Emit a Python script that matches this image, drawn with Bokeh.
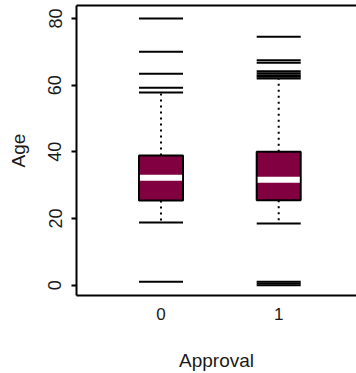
from bokeh.plotting import figure
from bokeh.models import FixedTicker, LinearAxis, Range1d
from bokeh.embed import file_html
from bokeh.resources import INLINE

# data
categories = ["0", "1"]
q1 = [25.4, 25.5]
median = [32.2, 31.6]
q3 = [38.9, 40.0]
whisker_low = [18.8, 18.5]
whisker_high = [57.8, 62.0]
outliers_0 = [80.0, 70.0, 63.4, 59.2, 1.0]
outliers_1 = [74.5, 67.5, 66.7, 64.2, 63.6, 63.0, 62.5, 1.0, 0.5, 0.0]
outliers = [outliers_0, outliers_1]
y_ticks = [0, 20, 40, 60, 80]

pos = [i + 1 for i in range(len(categories))]
bw = 0.374
FONT = "Liberation Sans"
TXT = "#1a1a1a"

p = figure(width=356, height=373, output_backend="svg", toolbar_location=None,
           x_range=Range1d(0.282, 2.661), y_range=Range1d(-3.1, 83.9),
           min_border_left=76, min_border_right=0, min_border_top=5, min_border_bottom=78,
           x_axis_location=None, y_axis_location=None)
p.grid.visible = False
p.outline_line_color = None
p.background_fill_color = "white"
p.border_fill_color = "white"

# axes
yax = LinearAxis(ticker=FixedTicker(ticks=y_ticks), axis_label="Age")
yax.axis_line_width = 2
yax.major_tick_line_width = 2
yax.major_tick_out = 5
yax.major_tick_in = 0
yax.minor_tick_line_color = None
yax.major_label_orientation = "vertical"
yax.major_label_standoff = 10
yax.major_label_text_font = FONT
yax.major_label_text_font_size = "18px"
yax.major_label_text_color = TXT
yax.axis_label_text_font = FONT
yax.axis_label_text_font_size = "19px"
yax.axis_label_text_font_style = "normal"
yax.axis_label_text_color = TXT
yax.axis_label_standoff = 17
p.add_layout(yax, "left")

xax = LinearAxis(ticker=FixedTicker(ticks=pos), axis_label="Approval")
xax.major_label_overrides = {pp: c for pp, c in zip(pos, categories)}
xax.axis_line_width = 2
xax.major_tick_line_color = None
xax.major_tick_out = 0
xax.major_tick_in = 0
xax.minor_tick_line_color = None
xax.major_label_standoff = 12
xax.major_label_text_font = FONT
xax.major_label_text_font_size = "17px"
xax.major_label_text_color = TXT
xax.axis_label_text_font = FONT
xax.axis_label_text_font_size = "19px"
xax.axis_label_text_font_style = "normal"
xax.axis_label_text_color = TXT
xax.axis_label_standoff = 27
p.add_layout(xax, "below")

tax = LinearAxis(ticker=FixedTicker(ticks=[]))
tax.axis_line_width = 2
tax.major_tick_line_color = None
tax.minor_tick_line_color = None
tax.major_tick_out = 0
tax.major_label_standoff = 0
tax.major_label_text_font_size = "0px"
p.add_layout(tax, "above")

# whiskers (dotted)
p.segment(x0=pos, y0=q3, x1=pos, y1=whisker_high, line_color="black", line_width=2, line_dash="2 4")
p.segment(x0=pos, y0=q1, x1=pos, y1=whisker_low, line_color="black", line_width=2, line_dash="2 4")
# caps
left = [x - bw / 2 for x in pos]
right = [x + bw / 2 for x in pos]
p.segment(x0=left, y0=whisker_high, x1=right, y1=whisker_high, line_color="black", line_width=2)
p.segment(x0=left, y0=whisker_low, x1=right, y1=whisker_low, line_color="black", line_width=2)

# boxes
p.quad(left=left, right=right, bottom=q1, top=q3, fill_color="#800040", line_color="black", line_width=2)
inner = bw / 2 - 0.008
p.segment(x0=[x - inner for x in pos], y0=median, x1=[x + inner for x in pos], y1=median,
          line_color="white", line_width=6)

# outliers as horizontal strokes
ox0, ox1, oy = [], [], []
for x, vals in zip(pos, outliers):
    for v in vals:
        ox0.append(x - bw / 2)
        ox1.append(x + bw / 2)
        oy.append(v)
p.segment(x0=ox0, y0=oy, x1=ox1, y1=oy, line_color="black", line_width=2)

open("out.html", "w").write(file_html(p, INLINE))
